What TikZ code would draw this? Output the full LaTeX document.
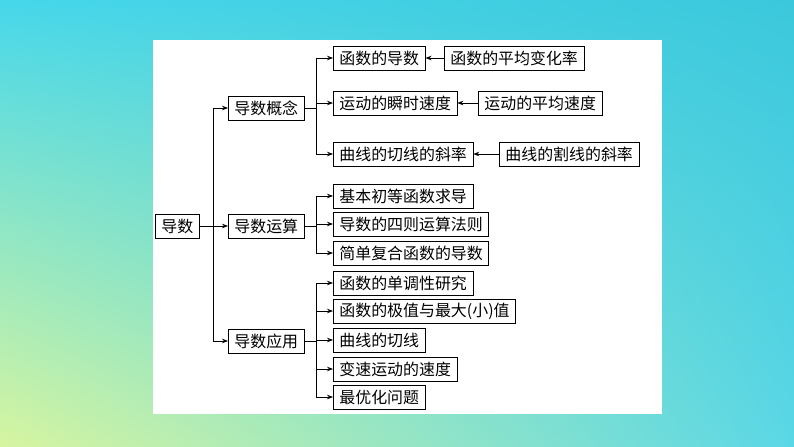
\documentclass[tikz,border=0pt]{standalone}
\usepackage{fontspec}
\newfontfamily\cjk{Noto Sans CJK SC}
\usetikzlibrary{arrows.meta,shadings}
\definecolor{bgul}{RGB}{70,215,235}
\definecolor{bgur}{RGB}{60,200,220}
\definecolor{bgll}{RGB}{215,245,160}
\definecolor{bglr}{RGB}{90,215,230}
\tikzset{
  item/.style={draw, thick, anchor=west, minimum height=24bp, inner xsep=6bp,
    inner ysep=2bp, font=\cjk\fontsize{16}{18}\selectfont},
  link/.style={thick},
  feed/.style={thick, -{Stealth[length=6bp]}}
}
\begin{document}
\begin{tikzpicture}[x=1bp, y=-1bp]
  \shade[upper left=bgul, upper right=bgur, lower left=bgll, lower right=bglr]
    (0,0) rectangle (794,447);
  \fill[white] (153,40) rectangle (662,414);

  % root and middle level
  \node[item] (root) at (155,226) {导数};
  \node[item] (concept) at (228,108) {导数概念};
  \node[item] (calc) at (228,226) {导数运算};
  \node[item] (apply) at (228,341) {导数应用};

  % leaves
  \node[item] (c1) at (333,58) {函数的导数};
  \node[item] (c2) at (333,103) {运动的瞬时速度};
  \node[item] (c3) at (333,154) {曲线的切线的斜率};
  \node[item] (s1) at (444,58) {函数的平均变化率};
  \node[item] (s2) at (478,103) {运动的平均速度};
  \node[item] (s3) at (499,154) {曲线的割线的斜率};
  \node[item] (r1) at (333,196) {基本初等函数求导};
  \node[item] (r2) at (333,224) {导数的四则运算法则};
  \node[item] (r3) at (333,253) {简单复合函数的导数};
  \node[item] (a1) at (333,283) {函数的单调性研究};
  \node[item] (a2) at (333,311) {函数的极值与最大(小)值};
  \node[item] (a3) at (333,340) {曲线的切线};
  \node[item] (a4) at (333,369) {变速运动的速度};
  \node[item] (a5) at (333,397) {最优化问题};

  % connectors
  \draw[link] (root.east) -- (213,226);
  \foreach \m in {concept,calc,apply}
    \draw[feed] (213,226) |- (\m.west);
  \foreach \p/\list in {concept/{c1,c2,c3}, calc/{r1,r2,r3}, apply/{a1,a2,a3,a4,a5}} {
    \draw[link] (\p.east) -- (316,0 |- \p.east);
    \foreach \k in \list
      \draw[feed] (316,0 |- \p.east) |- (\k.west);
  }
  \draw[feed] (s1.west) -- (c1.east);
  \draw[feed] (s2.west) -- (c2.east);
  \draw[feed] (s3.west) -- (c3.east);
\end{tikzpicture}
\end{document}
